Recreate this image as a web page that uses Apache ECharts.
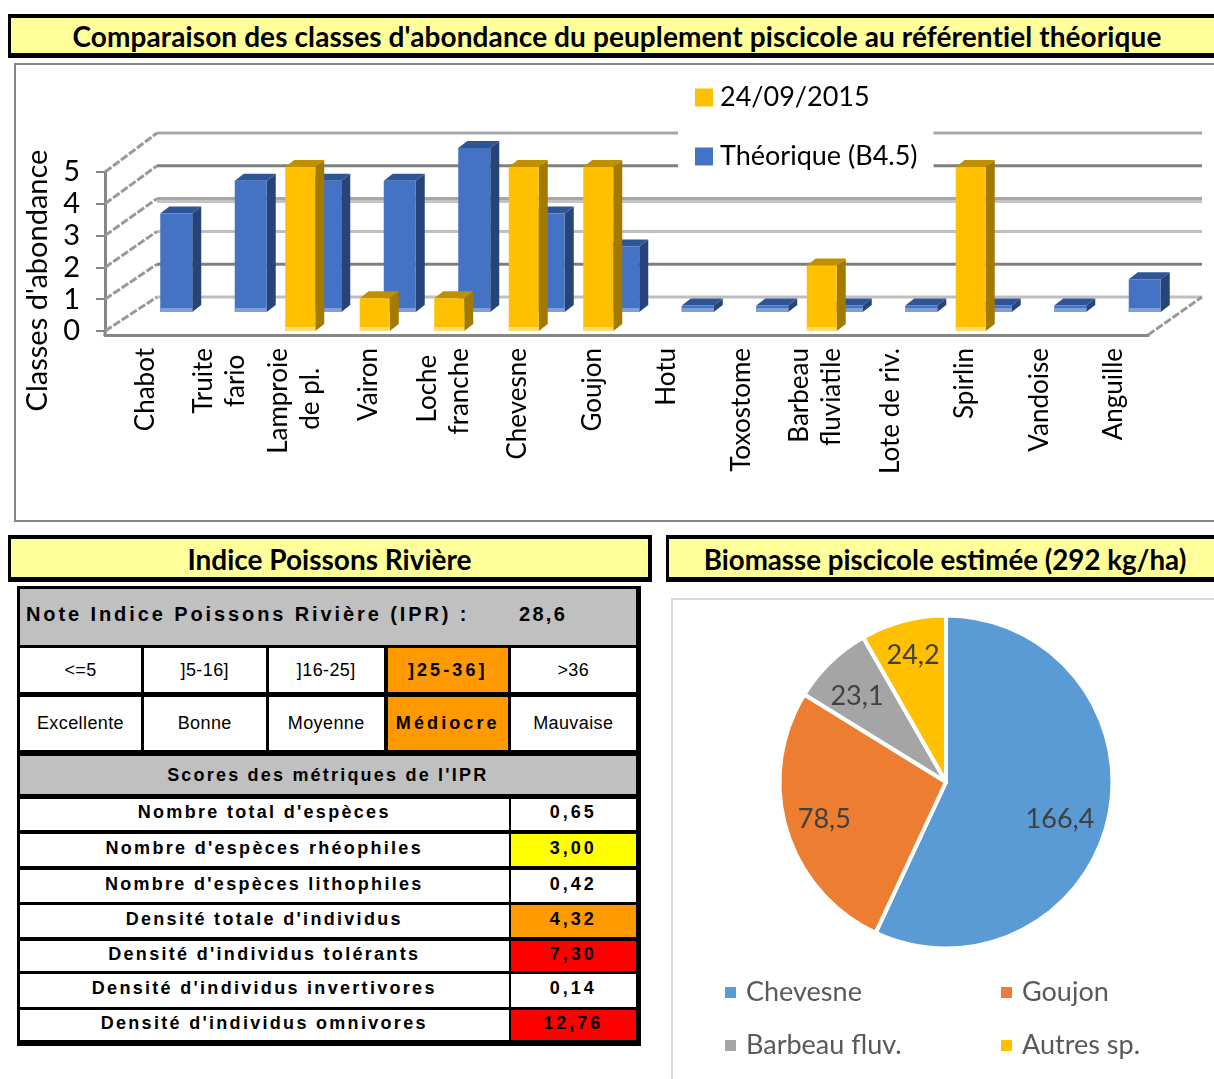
<!DOCTYPE html>
<html lang="fr">
<head>
<meta charset="utf-8">
<title>Peuplement piscicole</title>
<script src="https://cdn.jsdelivr.net/npm/echarts@6/dist/echarts.min.js"></script>
<style>
html, body { margin: 0; padding: 0; background: #fff; width: 1214px; height: 1079px; overflow: hidden; }
.banner {
  position: absolute; box-sizing: border-box; background: #ffff99; border: solid #000;
  border-width: 4px 4px 5px 3px; text-align: center; color: #000; white-space: nowrap;
  font: bold 28px/36px Lato, sans-serif;
}
#frameBar { position: absolute; box-sizing: border-box; left: 14px; top: 63px; width: 1240px; height: 459px; border: 2px solid #868686; }
#framePie { position: absolute; box-sizing: border-box; left: 671px; top: 598px; width: 600px; height: 520px; border: 2px solid #d9d9d9; }
#barChart { position: absolute; left: 15px; top: 64px; width: 1199px; height: 456px; }
#pieChart { position: absolute; left: 673px; top: 600px; width: 541px; height: 479px; }
#ipr { position: absolute; left: 17px; top: 586px; width: 624px; height: 460px; background: #000; }
.cell {
  position: absolute; background: #fff; color: #000; text-align: center; white-space: nowrap; overflow: hidden;
  font-family: "Liberation Sans", Arial, sans-serif; font-size: 18px; letter-spacing: 0.4px;
}
.grey { background: #c0c0c0; }
.strong { font-weight: bold; letter-spacing: 2.3px; }
</style>
</head>
<body>
<div class="banner" style="left:8px;top:14px;width:1230px;height:44px;padding-right:11px;line-height:36px;letter-spacing:0.1px">Comparaison des classes d'abondance du peuplement piscicole au référentiel théorique</div>
<div id="frameBar"></div>
<div id="barChart"></div>
<div class="banner" style="left:8px;top:535px;width:644px;height:47px;line-height:41px">Indice Poissons Rivière</div>
<div id="ipr"></div>
<div class="banner" style="left:666px;top:535px;width:570px;height:47px;line-height:41px;padding-right:11px;font-size:27.7px">Biomasse piscicole estimée (292 kg/ha)</div>
<div id="framePie"></div>
<div id="pieChart"></div>

<script>
const species = ['Chabot', 'Truite\nfario', 'Lamproie\nde pl.', 'Vairon', 'Loche\nfranche', 'Chevesne', 'Goujon', 'Hotu',
  'Toxostome', 'Barbeau\nfluviatile', 'Lote de riv.', 'Spirlin', 'Vandoise', 'Anguille']
const observed = [0, 0, 5, 1, 1, 5, 5, 0, 0, 2, 0, 5, 0, 0]
const theoretical = [3, 4, 4, 4, 5, 3, 2, 0.2, 0.2, 0.2, 0.2, 0.2, 0.2, 1]
const abundanceTicks = [0, 1, 2, 3, 4, 5]
const observedName = '24/09/2015'
const theoreticalName = 'Théorique (B4.5)'

const biomassNames = ['Chevesne', 'Goujon', 'Barbeau fluv.', 'Autres sp.']
const biomassValues = [166.4, 78.5, 23.1, 24.2]

const iprNote = '28,6'
const ratingRanges = ['<=5', ']5-16]', ']16-25]', ']25-36]', '>36']
const ratingLabels = ['Excellente', 'Bonne', 'Moyenne', 'Médiocre', 'Mauvaise']
const activeRating = 3
const metricNames = ["Nombre total d'espèces", "Nombre d'espèces rhéophiles", "Nombre d'espèces lithophiles",
  "Densité totale d'individus", "Densité d'individus tolérants", "Densité d'individus invertivores", "Densité d'individus omnivores"]
const metricScores = [0.65, 3.00, 0.42, 4.32, 7.30, 0.14, 12.76]

// ---------- table ----------
const ipr = document.getElementById('ipr')
function cell(x, y, w, h, text, cls, fill) {
  const el = document.createElement('div')
  el.className = 'cell ' + (cls || '')
  el.style.cssText = `left:${x - 17}px;top:${y - 586}px;width:${w}px;height:${h}px;line-height:${h}px;` + (fill ? `background:${fill};` : '')
  el.textContent = text
  ipr.appendChild(el)
  return el
}
function scoreFill(score) {
  if (score >= 7) return '#ff0000'
  if (score >= 4) return '#ff9900'
  if (score >= 3) return '#ffff00'
  return '#fff'
}

cell(20, 589, 615.5, 56, '', 'grey')
const noteTitle = cell(26, 589, 460, 56, 'Note Indice Poissons Rivière (IPR) :', 'grey strong')
noteTitle.style.cssText += 'font-size:20px;text-align:left;line-height:50px;letter-spacing:2.9px;'
const noteValue = cell(519, 589, 70, 56, iprNote, 'grey strong')
noteValue.style.cssText += 'font-size:20px;text-align:left;line-height:50px;'

const ratingX = [20, 144, 268.5, 387.5, 511]
const ratingW = [121, 121.5, 115.5, 120.5, 124.5]
ratingRanges.forEach((t, i) => {
  const on = i === activeRating
  const range = cell(ratingX[i], 648, ratingW[i], 44, t, on ? 'strong' : '', on ? '#ff9900' : '')
  const label = cell(ratingX[i], 697, ratingW[i], 53, ratingLabels[i], on ? 'strong' : '', on ? '#ff9900' : '')
  if (on) range.style.letterSpacing = label.style.letterSpacing = '3.1px'
})
cell(20, 756, 615.5, 38, "Scores des métriques de l'IPR", 'grey strong').style.letterSpacing = '2.2px'

const metricY = [799, 834, 870, 905, 941, 974, 1010]
const metricH = [31, 32, 32, 32, 30, 33, 30]
metricNames.forEach((name, i) => {
  cell(20, metricY[i], 488.5, metricH[i], name, 'strong').style.lineHeight = (metricH[i] - 4) + 'px'
  const v = cell(511, metricY[i], 124.5, metricH[i], metricScores[i].toFixed(2).replace('.', ','), 'strong', scoreFill(metricScores[i]))
  v.style.letterSpacing = '3px'
  v.style.lineHeight = (metricH[i] - 4) + 'px'
})

// ---------- abundance chart ----------
const labelFont = '26px Lato'
const measure = document.createElement('canvas').getContext('2d')
measure.font = labelFont
const padWidth = measure.measureText('\u00a0').width
// right-aligned rotated lines: pad the short one so that both lines end up centred
function centerLines(label) {
  const lines = label.split('\n')
  const widest = Math.max(...lines.map(l => measure.measureText(l).width))
  return lines.map(l => l + '\u00a0'.repeat(Math.round((widest - measure.measureText(l).width) / 2 / padWidth))).join('\n')
}

const wallColors = ['#bfbfbf', '#7f7f7f', '#bfbfbf', '#a6a6a6', '#7f7f7f', '#a6a6a6']

function barRenderer(shiftX, shiftY, barWidth, colors) {
  return function (params, api) {
    const value = api.value(1)
    if (!value) return null
    const top = api.coord([api.value(0), value])
    const base = api.coord([api.value(0), 0])
    const x = top[0] + shiftX - barWidth / 2
    const yTop = top[1] + shiftY
    const yBase = base[1] + shiftY
    const h = yBase - yTop
    const dx = 9
    const dy = 7
    return {
      type: 'group',
      children: [
        { type: 'polygon', shape: { points: [[x + barWidth, yTop], [x + barWidth + dx, yTop - dy], [x + barWidth + dx, yBase - dy], [x + barWidth, yBase]] }, style: { fill: colors.side } },
        { type: 'polygon', shape: { points: [[x, yTop], [x + dx, yTop - dy], [x + barWidth + dx, yTop - dy], [x + barWidth, yTop]] }, style: { fill: colors.top } },
        { type: 'rect', shape: { x: x, y: yTop, width: barWidth, height: h }, style: { fill: colors.front } },
        { type: 'rect', shape: { x: x, y: Math.max(yTop, yBase - 4), width: barWidth, height: Math.min(h, 4) }, style: { fill: colors.edge } }
      ]
    }
  }
}

const barChart = echarts.init(document.getElementById('barChart'))
barChart.setOption({
  animation: false,
  textStyle: { fontFamily: 'Lato' },
  legend: {
    data: [observedName, theoreticalName],
    orient: 'vertical',
    left: 663,
    top: 8,
    z: 20,
    backgroundColor: '#fff',
    padding: [12, 16, 12, 17],
    itemWidth: 18,
    itemHeight: 18,
    itemGap: 32,
    icon: 'rect',
    textStyle: { fontFamily: 'Lato', fontSize: 27, color: '#000', padding: [0, 0, 0, 2] }
  },
  grid: [
    { left: 90, top: 108, width: 1043, height: 159 }, // front plane: visible axes
    { left: 90, top: 103, width: 1043, height: 164 }, // bars and back wall
    { left: 93, top: 108, width: 1043, height: 159 }  // category labels sit a bit right of their band
  ],
  xAxis: [
    {
      type: 'category', gridIndex: 0, data: species, offset: 4,
      axisLine: { onZero: false, lineStyle: { color: '#868686', width: 3 } },
      axisTick: { length: 7, lineStyle: { color: '#868686', width: 2 } },
      axisLabel: { show: false }
    },
    { type: 'category', gridIndex: 1, data: species, show: false },
    {
      type: 'category', gridIndex: 2, data: species, offset: 4,
      axisLine: { show: false }, axisTick: { show: false },
      axisLabel: { interval: 0, rotate: 90, hideOverlap: false, margin: 13, color: '#000', fontSize: 26, fontFamily: 'Lato', lineHeight: 32, formatter: centerLines }
    }
  ],
  yAxis: [
    {
      type: 'value', gridIndex: 0, min: 0, max: 5, interval: 1,
      name: "Classes d'abondance", nameLocation: 'middle', nameGap: 51, nameRotate: 90,
      nameTextStyle: { color: '#000', fontSize: 29, fontFamily: 'Lato', padding: [0, 58, 0, 0] },
      axisLine: { show: true, lineStyle: { color: '#868686', width: 3 } },
      axisTick: { show: true, length: 9, lineStyle: { color: '#868686', width: 2 } },
      axisLabel: { color: '#000', fontSize: 29, fontFamily: 'Lato', margin: 25 },
      splitLine: { show: false }
    },
    { type: 'value', gridIndex: 1, min: 0, max: 5, interval: 1, show: false },
    { type: 'value', gridIndex: 2, min: 0, max: 5, interval: 1, show: false }
  ],
  series: [
    {
      name: 'Parois', type: 'custom', xAxisIndex: 1, yAxisIndex: 1, z: 1, silent: true, clip: false,
      data: abundanceTicks.map(v => [0, v]),
      renderItem(params, api) {
        const v = api.value(1)
        const y = api.coord([0, v])[1] - 34
        const grid = params.coordSys
        const children = [{
          type: 'line',
          shape: { x1: grid.x + 52, y1: y, x2: grid.x + grid.width + 54, y2: y },
          style: { stroke: wallColors[v], lineWidth: 3 }
        }]
        // the gridline at 3 is doubled by a paler one just under it
        if (v === 3) {
          children.unshift({
            type: 'line',
            shape: { x1: grid.x + 52, y1: y + 3, x2: grid.x + grid.width + 54, y2: y + 3 },
            style: { stroke: '#c4c4c4', lineWidth: 3 }
          })
        }
        return { type: 'group', children }
      }
    },
    {
      name: 'Plancher', type: 'custom', xAxisIndex: 0, yAxisIndex: 0, z: 1, silent: true, clip: false,
      data: abundanceTicks.map(v => [0, v]),
      renderItem(params, api) {
        const v = api.value(1)
        const y = api.coord([0, v])[1]
        const grid = params.coordSys
        const dash = { stroke: '#999', lineWidth: 3, lineDash: [8, 2] }
        const children = [{ type: 'line', shape: { x1: grid.x, y1: y, x2: grid.x + 52, y2: y - 34 - v }, style: dash }]
        if (v === 0) {
          children.push({ type: 'line', shape: { x1: grid.x + grid.width, y1: y + 4, x2: grid.x + grid.width + 54, y2: y - 34 }, style: dash })
          children.push({ type: 'line', shape: { x1: grid.x, y1: y, x2: grid.x, y2: y + 5 }, style: { stroke: '#868686', lineWidth: 3 } })
        }
        return { type: 'group', children }
      }
    },
    {
      name: theoreticalName, type: 'custom', xAxisIndex: 1, yAxisIndex: 1, z: 2, clip: false,
      itemStyle: { color: '#4472c4' },
      data: theoretical.map((v, i) => [i, v]),
      renderItem: barRenderer(34, -19, 32, { front: '#4472c4', top: '#2f5597', side: '#264478', edge: '#7f9fd8' })
    },
    {
      name: observedName, type: 'custom', xAxisIndex: 1, yAxisIndex: 1, z: 3, clip: false,
      itemStyle: { color: '#ffc000' },
      data: observed.map((v, i) => [i, v]),
      renderItem: barRenderer(9, 0, 30, { front: '#ffc000', top: '#bf9000', side: '#a37a00', edge: '#ffdc73' })
    }
  ]
})

// ---------- biomass pie ----------
const biomassData = biomassNames.map((name, i) => ({ name, value: biomassValues[i] }))
const biomassColors = ['#5b9bd5', '#ed7d31', '#a5a5a5', '#ffc000']
const labelNudges = [[-11, 10], [1, 1], [0, 6], [0, -3]]
const legendBase = {
  orient: 'vertical', icon: 'rect', itemWidth: 13, itemHeight: 13, itemGap: 26, top: 374,
  textStyle: { fontFamily: 'Lato', fontSize: 27, color: '#595959', padding: [0, 0, 0, 4] }
}
const pieChart = echarts.init(document.getElementById('pieChart'))
pieChart.setOption({
  animation: false,
  color: biomassColors,
  legend: [
    Object.assign({}, legendBase, { left: 45, data: [biomassNames[0], biomassNames[2]] }),
    Object.assign({}, legendBase, { left: 321, data: [biomassNames[1], biomassNames[3]] })
  ],
  series: [
    {
      type: 'pie', radius: 166.5, center: [273, 182], startAngle: 90, clockwise: true,
      itemStyle: { borderColor: '#fff', borderWidth: 4 },
      label: { show: false }, labelLine: { show: false },
      data: biomassData
    },
    {
      // label carrier only: its ring puts the values near the rim, as in the sheet
      type: 'pie', radius: [85, 165], center: [273, 182], startAngle: 90, clockwise: true, silent: true,
      itemStyle: { color: 'transparent' },
      label: {
        show: true, position: 'inside', color: '#404040', fontFamily: 'Lato', fontSize: 27,
        formatter: p => p.value.toFixed(1).replace('.', ',')
      },
      labelLayout: p => ({ dx: labelNudges[p.dataIndex][0], dy: labelNudges[p.dataIndex][1] }),
      labelLine: { show: false },
      data: biomassData
    }
  ]
})
</script>
</body>
</html>
